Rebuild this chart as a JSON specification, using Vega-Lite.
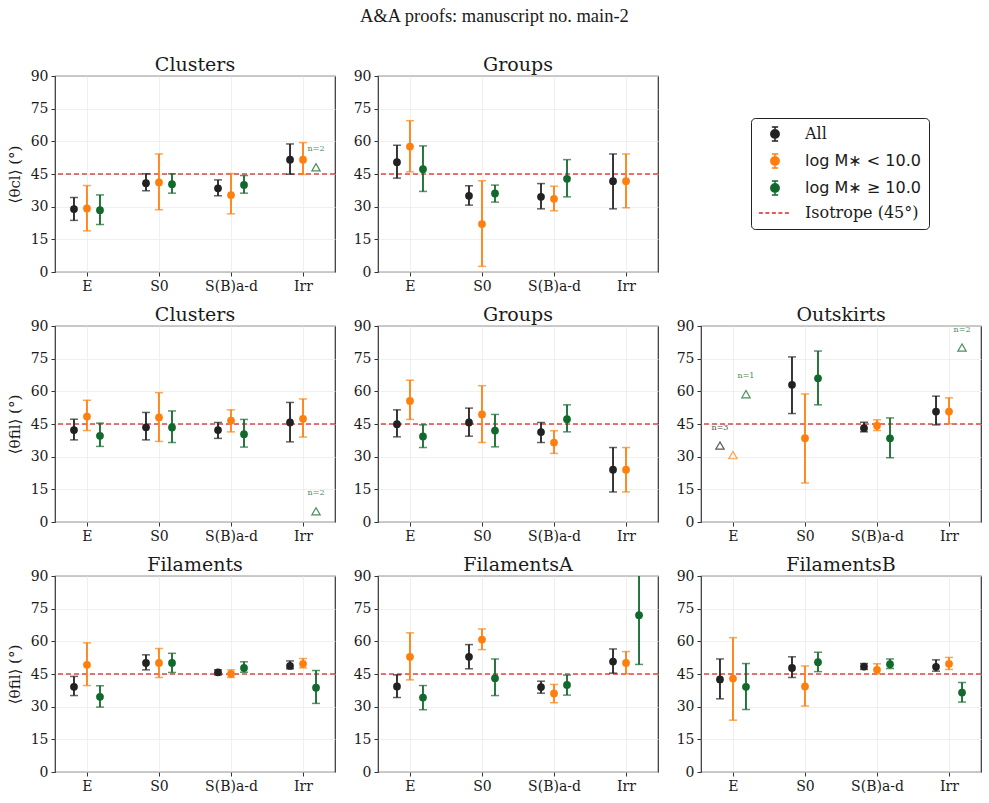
{
  "$schema": "https://vega.github.io/schema/vega-lite/v6.json",
  "background": "white",
  "padding": {"left": 6, "top": 6, "right": 5, "bottom": 5},
  "title": {"text": "A&A proofs: manuscript no. main-2", "font": "Liberation Serif", "fontSize": 18.5, "offset": 30, "anchor": "middle"},
  "datasets": {
    "iso": [{"ang": 45}],
    "pts": [
      {"panel": "c1", "morph": "E", "series": "All", "val": 28.9, "lo": 23.7, "hi": 34.2},
      {"panel": "c1", "morph": "E", "series": "low", "val": 29.2, "lo": 18.9, "hi": 39.7},
      {"panel": "c1", "morph": "E", "series": "high", "val": 28.4, "lo": 21.8, "hi": 35.4},
      {"panel": "c1", "morph": "S0", "series": "All", "val": 40.8, "lo": 37.3, "hi": 45.1},
      {"panel": "c1", "morph": "S0", "series": "low", "val": 41.1, "lo": 28.6, "hi": 54.2},
      {"panel": "c1", "morph": "S0", "series": "high", "val": 40.3, "lo": 36.2, "hi": 45.1},
      {"panel": "c1", "morph": "S(B)a-d", "series": "All", "val": 38.4, "lo": 35.0, "hi": 42.3},
      {"panel": "c1", "morph": "S(B)a-d", "series": "low", "val": 35.3, "lo": 26.7, "hi": 45.2},
      {"panel": "c1", "morph": "S(B)a-d", "series": "high", "val": 40.0, "lo": 36.2, "hi": 44.3},
      {"panel": "c1", "morph": "Irr", "series": "All", "val": 51.6, "lo": 44.9, "hi": 58.8},
      {"panel": "c1", "morph": "Irr", "series": "low", "val": 51.6, "lo": 44.8, "hi": 59.4},

      {"panel": "g1", "morph": "E", "series": "All", "val": 50.4, "lo": 43.1, "hi": 58.2},
      {"panel": "g1", "morph": "E", "series": "low", "val": 57.6, "lo": 46.0, "hi": 69.5},
      {"panel": "g1", "morph": "E", "series": "high", "val": 47.2, "lo": 37.0, "hi": 57.9},
      {"panel": "g1", "morph": "S0", "series": "All", "val": 35.0, "lo": 30.7, "hi": 39.6},
      {"panel": "g1", "morph": "S0", "series": "low", "val": 22.0, "lo": 2.6, "hi": 41.9},
      {"panel": "g1", "morph": "S0", "series": "high", "val": 36.1, "lo": 32.1, "hi": 39.9},
      {"panel": "g1", "morph": "S(B)a-d", "series": "All", "val": 34.5, "lo": 29.0, "hi": 40.6},
      {"panel": "g1", "morph": "S(B)a-d", "series": "low", "val": 33.6, "lo": 28.1, "hi": 39.4},
      {"panel": "g1", "morph": "S(B)a-d", "series": "high", "val": 42.8, "lo": 34.5, "hi": 51.6},
      {"panel": "g1", "morph": "Irr", "series": "All", "val": 41.7, "lo": 29.0, "hi": 54.2},
      {"panel": "g1", "morph": "Irr", "series": "low", "val": 41.7, "lo": 29.5, "hi": 54.2},

      {"panel": "c2", "morph": "E", "series": "All", "val": 42.2, "lo": 37.7, "hi": 47.2},
      {"panel": "c2", "morph": "E", "series": "low", "val": 48.4, "lo": 42.0, "hi": 55.9},
      {"panel": "c2", "morph": "E", "series": "high", "val": 39.6, "lo": 34.7, "hi": 45.4},
      {"panel": "c2", "morph": "S0", "series": "All", "val": 43.5, "lo": 37.7, "hi": 50.3},
      {"panel": "c2", "morph": "S0", "series": "low", "val": 48.0, "lo": 37.0, "hi": 59.4},
      {"panel": "c2", "morph": "S0", "series": "high", "val": 43.4, "lo": 36.5, "hi": 51.0},
      {"panel": "c2", "morph": "S(B)a-d", "series": "All", "val": 42.2, "lo": 38.4, "hi": 45.7},
      {"panel": "c2", "morph": "S(B)a-d", "series": "low", "val": 46.6, "lo": 41.4, "hi": 51.5},
      {"panel": "c2", "morph": "S(B)a-d", "series": "high", "val": 40.3, "lo": 34.4, "hi": 47.1},
      {"panel": "c2", "morph": "Irr", "series": "All", "val": 45.7, "lo": 36.8, "hi": 54.9},
      {"panel": "c2", "morph": "Irr", "series": "low", "val": 47.4, "lo": 39.0, "hi": 56.5},

      {"panel": "g2", "morph": "E", "series": "All", "val": 44.9, "lo": 39.1, "hi": 51.5},
      {"panel": "g2", "morph": "E", "series": "low", "val": 55.6, "lo": 47.1, "hi": 65.1},
      {"panel": "g2", "morph": "E", "series": "high", "val": 39.3, "lo": 34.2, "hi": 44.6},
      {"panel": "g2", "morph": "S0", "series": "All", "val": 45.7, "lo": 39.4, "hi": 52.3},
      {"panel": "g2", "morph": "S0", "series": "low", "val": 49.4, "lo": 36.5, "hi": 62.6},
      {"panel": "g2", "morph": "S0", "series": "high", "val": 42.0, "lo": 34.5, "hi": 49.4},
      {"panel": "g2", "morph": "S(B)a-d", "series": "All", "val": 41.3, "lo": 36.5, "hi": 45.7},
      {"panel": "g2", "morph": "S(B)a-d", "series": "low", "val": 36.5, "lo": 31.5, "hi": 41.9},
      {"panel": "g2", "morph": "S(B)a-d", "series": "high", "val": 47.2, "lo": 41.4, "hi": 53.8},
      {"panel": "g2", "morph": "Irr", "series": "All", "val": 24.0, "lo": 13.8, "hi": 34.2},
      {"panel": "g2", "morph": "Irr", "series": "low", "val": 24.0, "lo": 13.8, "hi": 34.2},

      {"panel": "o2", "morph": "S0", "series": "All", "val": 63.0, "lo": 49.8, "hi": 75.8},
      {"panel": "o2", "morph": "S0", "series": "low", "val": 38.5, "lo": 17.9, "hi": 58.8},
      {"panel": "o2", "morph": "S0", "series": "high", "val": 66.0, "lo": 53.8, "hi": 78.5},
      {"panel": "o2", "morph": "S(B)a-d", "series": "All", "val": 43.1, "lo": 41.4, "hi": 45.8},
      {"panel": "o2", "morph": "S(B)a-d", "series": "low", "val": 44.2, "lo": 42.0, "hi": 46.9},
      {"panel": "o2", "morph": "S(B)a-d", "series": "high", "val": 38.4, "lo": 29.5, "hi": 47.8},
      {"panel": "o2", "morph": "Irr", "series": "All", "val": 50.7, "lo": 44.6, "hi": 57.8},
      {"panel": "o2", "morph": "Irr", "series": "low", "val": 50.7, "lo": 45.1, "hi": 57.0},

      {"panel": "f3", "morph": "E", "series": "All", "val": 39.1, "lo": 35.1, "hi": 43.9},
      {"panel": "f3", "morph": "E", "series": "low", "val": 49.2, "lo": 39.7, "hi": 59.3},
      {"panel": "f3", "morph": "E", "series": "high", "val": 34.5, "lo": 29.8, "hi": 39.6},
      {"panel": "f3", "morph": "S0", "series": "All", "val": 50.1, "lo": 46.9, "hi": 53.8},
      {"panel": "f3", "morph": "S0", "series": "low", "val": 50.1, "lo": 43.4, "hi": 56.7},
      {"panel": "f3", "morph": "S0", "series": "high", "val": 50.1, "lo": 45.7, "hi": 54.5},
      {"panel": "f3", "morph": "S(B)a-d", "series": "All", "val": 45.8, "lo": 44.6, "hi": 46.9},
      {"panel": "f3", "morph": "S(B)a-d", "series": "low", "val": 45.1, "lo": 43.4, "hi": 46.9},
      {"panel": "f3", "morph": "S(B)a-d", "series": "high", "val": 47.8, "lo": 45.8, "hi": 50.6},
      {"panel": "f3", "morph": "Irr", "series": "All", "val": 48.7, "lo": 47.4, "hi": 51.0},
      {"panel": "f3", "morph": "Irr", "series": "low", "val": 49.7, "lo": 47.8, "hi": 52.1},
      {"panel": "f3", "morph": "Irr", "series": "high", "val": 38.7, "lo": 31.5, "hi": 46.6},

      {"panel": "fa3", "morph": "E", "series": "All", "val": 39.3, "lo": 34.2, "hi": 44.6},
      {"panel": "fa3", "morph": "E", "series": "low", "val": 52.9, "lo": 42.3, "hi": 63.9},
      {"panel": "fa3", "morph": "E", "series": "high", "val": 34.2, "lo": 28.6, "hi": 39.7},
      {"panel": "fa3", "morph": "S0", "series": "All", "val": 52.9, "lo": 47.4, "hi": 58.5},
      {"panel": "fa3", "morph": "S0", "series": "low", "val": 60.8, "lo": 56.2, "hi": 65.7},
      {"panel": "fa3", "morph": "S0", "series": "high", "val": 43.1, "lo": 35.1, "hi": 51.9},
      {"panel": "fa3", "morph": "S(B)a-d", "series": "All", "val": 39.0, "lo": 36.2, "hi": 41.7},
      {"panel": "fa3", "morph": "S(B)a-d", "series": "low", "val": 36.1, "lo": 31.8, "hi": 40.2},
      {"panel": "fa3", "morph": "S(B)a-d", "series": "high", "val": 40.0, "lo": 35.3, "hi": 44.5},
      {"panel": "fa3", "morph": "Irr", "series": "All", "val": 50.7, "lo": 45.4, "hi": 56.5},
      {"panel": "fa3", "morph": "Irr", "series": "low", "val": 50.1, "lo": 45.1, "hi": 55.3},
      {"panel": "fa3", "morph": "Irr", "series": "high", "val": 72.0, "lo": 49.4, "hi": 94.6},

      {"panel": "fb3", "morph": "E", "series": "All", "val": 42.5, "lo": 33.6, "hi": 51.9},
      {"panel": "fb3", "morph": "E", "series": "low", "val": 42.9, "lo": 23.8, "hi": 61.7},
      {"panel": "fb3", "morph": "E", "series": "high", "val": 39.1, "lo": 28.7, "hi": 49.8},
      {"panel": "fb3", "morph": "S0", "series": "All", "val": 47.8, "lo": 43.4, "hi": 52.9},
      {"panel": "fb3", "morph": "S0", "series": "low", "val": 39.3, "lo": 30.3, "hi": 48.7},
      {"panel": "fb3", "morph": "S0", "series": "high", "val": 50.4, "lo": 46.1, "hi": 55.0},
      {"panel": "fb3", "morph": "S(B)a-d", "series": "All", "val": 48.4, "lo": 47.1, "hi": 49.8},
      {"panel": "fb3", "morph": "S(B)a-d", "series": "low", "val": 46.9, "lo": 45.1, "hi": 49.7},
      {"panel": "fb3", "morph": "S(B)a-d", "series": "high", "val": 49.5, "lo": 47.5, "hi": 51.9},
      {"panel": "fb3", "morph": "Irr", "series": "All", "val": 48.3, "lo": 46.3, "hi": 51.5},
      {"panel": "fb3", "morph": "Irr", "series": "low", "val": 49.7, "lo": 47.1, "hi": 52.6},
      {"panel": "fb3", "morph": "Irr", "series": "high", "val": 36.5, "lo": 32.1, "hi": 41.1}
    ],
    "few": [
      {"panel": "c1", "morph": "Irr", "series": "high", "val": 48.1, "n": "n=2"},
      {"panel": "c2", "morph": "Irr", "series": "high", "val": 4.9, "n": "n=2"},
      {"panel": "o2", "morph": "E", "series": "All", "val": 35.1, "n": "n=3"},
      {"panel": "o2", "morph": "E", "series": "low", "val": 30.7, "n": null},
      {"panel": "o2", "morph": "E", "series": "high", "val": 58.7, "n": "n=1"},
      {"panel": "o2", "morph": "Irr", "series": "high", "val": 80.1, "n": "n=2"}
    ],
    "legend": [
      {"label": "All"},
      {"label": "log M∗ < 10.0"},
      {"label": "log M∗ ≥ 10.0"},
      {"label": "Isotrope (45°)"}
    ]
  },
  "vconcat": [
    {
      "hconcat": [
        {
          "title": "Clusters", "width": 280, "height": 196,
          "layer": [
            {"data": {"name": "iso"}, "mark": {"type": "rule", "color": "#d62728", "strokeDash": [5, 3], "strokeWidth": 1.5, "opacity": 0.85},
             "encoding": {"y": {"field": "ang", "type": "quantitative", "scale": {"domain": [0, 90], "nice": false}, "axis": {"values": [0, 15, 30, 45, 60, 75, 90]}, "title": "⟨θcl⟩ (°)"}}},
            {"data": {"name": "pts"}, "transform": [{"filter": "datum.panel === 'c1'"}], "mark": {"type": "rule", "strokeWidth": 1.8, "clip": true},
             "encoding": {
               "x": {"field": "morph", "type": "nominal", "scale": {"type": "point", "domain": ["E", "S0", "S(B)a-d", "Irr"], "padding": 0.444}, "title": null},
               "xOffset": {"field": "series", "type": "nominal", "scale": {"type": "point", "domain": ["All", "low", "high"], "range": [-13, 13], "padding": 0}},
               "y": {"field": "lo", "type": "quantitative", "scale": {"domain": [0, 90], "nice": false}, "axis": {"values": [0, 15, 30, 45, 60, 75, 90]}, "title": "⟨θcl⟩ (°)"},
               "y2": {"field": "hi"},
               "color": {"field": "series", "type": "nominal", "scale": {"domain": ["All", "low", "high"], "range": ["#222222", "#ff7f0e", "#11692b"]}, "legend": null}}},
            {"data": {"name": "pts"}, "transform": [{"filter": "datum.panel === 'c1'"}], "mark": {"type": "tick", "orient": "horizontal", "size": 8, "thickness": 1.5, "clip": true},
             "encoding": {
               "x": {"field": "morph", "type": "nominal", "scale": {"type": "point", "domain": ["E", "S0", "S(B)a-d", "Irr"], "padding": 0.444}, "title": null},
               "xOffset": {"field": "series", "type": "nominal", "scale": {"type": "point", "domain": ["All", "low", "high"], "range": [-13, 13], "padding": 0}},
               "y": {"field": "lo", "type": "quantitative", "scale": {"domain": [0, 90], "nice": false}, "axis": {"values": [0, 15, 30, 45, 60, 75, 90]}, "title": "⟨θcl⟩ (°)"},
               "color": {"field": "series", "type": "nominal", "scale": {"domain": ["All", "low", "high"], "range": ["#222222", "#ff7f0e", "#11692b"]}, "legend": null}}},
            {"data": {"name": "pts"}, "transform": [{"filter": "datum.panel === 'c1'"}], "mark": {"type": "tick", "orient": "horizontal", "size": 8, "thickness": 1.5, "clip": true},
             "encoding": {
               "x": {"field": "morph", "type": "nominal", "scale": {"type": "point", "domain": ["E", "S0", "S(B)a-d", "Irr"], "padding": 0.444}, "title": null},
               "xOffset": {"field": "series", "type": "nominal", "scale": {"type": "point", "domain": ["All", "low", "high"], "range": [-13, 13], "padding": 0}},
               "y": {"field": "hi", "type": "quantitative", "scale": {"domain": [0, 90], "nice": false}, "axis": {"values": [0, 15, 30, 45, 60, 75, 90]}, "title": "⟨θcl⟩ (°)"},
               "color": {"field": "series", "type": "nominal", "scale": {"domain": ["All", "low", "high"], "range": ["#222222", "#ff7f0e", "#11692b"]}, "legend": null}}},
            {"data": {"name": "pts"}, "transform": [{"filter": "datum.panel === 'c1'"}], "mark": {"type": "point", "filled": true, "size": 60, "opacity": 1},
             "encoding": {
               "x": {"field": "morph", "type": "nominal", "scale": {"type": "point", "domain": ["E", "S0", "S(B)a-d", "Irr"], "padding": 0.444}, "title": null},
               "xOffset": {"field": "series", "type": "nominal", "scale": {"type": "point", "domain": ["All", "low", "high"], "range": [-13, 13], "padding": 0}},
               "y": {"field": "val", "type": "quantitative", "scale": {"domain": [0, 90], "nice": false}, "axis": {"values": [0, 15, 30, 45, 60, 75, 90]}, "title": "⟨θcl⟩ (°)"},
               "color": {"field": "series", "type": "nominal", "scale": {"domain": ["All", "low", "high"], "range": ["#222222", "#ff7f0e", "#11692b"]}, "legend": null}}},
            {"data": {"name": "few"}, "transform": [{"filter": "datum.panel === 'c1'"}], "mark": {"type": "point", "shape": "triangle-up", "filled": false, "size": 70, "strokeWidth": 1.2, "opacity": 0.75},
             "encoding": {
               "x": {"field": "morph", "type": "nominal", "scale": {"type": "point", "domain": ["E", "S0", "S(B)a-d", "Irr"], "padding": 0.444}, "title": null},
               "xOffset": {"field": "series", "type": "nominal", "scale": {"type": "point", "domain": ["All", "low", "high"], "range": [-13, 13], "padding": 0}},
               "y": {"field": "val", "type": "quantitative", "scale": {"domain": [0, 90], "nice": false}, "axis": {"values": [0, 15, 30, 45, 60, 75, 90]}, "title": "⟨θcl⟩ (°)"},
               "color": {"field": "series", "type": "nominal", "scale": {"domain": ["All", "low", "high"], "range": ["#222222", "#ff7f0e", "#11692b"]}, "legend": null}}},
            {"data": {"name": "few"}, "transform": [{"filter": "datum.panel === 'c1' && datum.n != null"}], "mark": {"type": "text", "fontSize": 8, "dy": -18, "opacity": 0.8},
             "encoding": {
               "x": {"field": "morph", "type": "nominal", "scale": {"type": "point", "domain": ["E", "S0", "S(B)a-d", "Irr"], "padding": 0.444}, "title": null},
               "xOffset": {"field": "series", "type": "nominal", "scale": {"type": "point", "domain": ["All", "low", "high"], "range": [-13, 13], "padding": 0}},
               "y": {"field": "val", "type": "quantitative", "scale": {"domain": [0, 90], "nice": false}, "axis": {"values": [0, 15, 30, 45, 60, 75, 90]}, "title": "⟨θcl⟩ (°)"},
               "text": {"field": "n"},
               "color": {"field": "series", "type": "nominal", "scale": {"domain": ["All", "low", "high"], "range": ["#222222", "#ff7f0e", "#11692b"]}, "legend": null}}}
          ]
        },
        {
          "title": "Groups", "width": 280, "height": 196,
          "layer": [
            {"data": {"name": "iso"}, "mark": {"type": "rule", "color": "#d62728", "strokeDash": [5, 3], "strokeWidth": 1.5, "opacity": 0.85},
             "encoding": {"y": {"field": "ang", "type": "quantitative", "scale": {"domain": [0, 90], "nice": false}, "axis": {"values": [0, 15, 30, 45, 60, 75, 90]}, "title": null}}},
            {"data": {"name": "pts"}, "transform": [{"filter": "datum.panel === 'g1'"}], "mark": {"type": "rule", "strokeWidth": 1.8, "clip": true},
             "encoding": {
               "x": {"field": "morph", "type": "nominal", "scale": {"type": "point", "domain": ["E", "S0", "S(B)a-d", "Irr"], "padding": 0.444}, "title": null},
               "xOffset": {"field": "series", "type": "nominal", "scale": {"type": "point", "domain": ["All", "low", "high"], "range": [-13, 13], "padding": 0}},
               "y": {"field": "lo", "type": "quantitative", "scale": {"domain": [0, 90], "nice": false}, "axis": {"values": [0, 15, 30, 45, 60, 75, 90]}, "title": null},
               "y2": {"field": "hi"},
               "color": {"field": "series", "type": "nominal", "scale": {"domain": ["All", "low", "high"], "range": ["#222222", "#ff7f0e", "#11692b"]}, "legend": null}}},
            {"data": {"name": "pts"}, "transform": [{"filter": "datum.panel === 'g1'"}], "mark": {"type": "tick", "orient": "horizontal", "size": 8, "thickness": 1.5, "clip": true},
             "encoding": {
               "x": {"field": "morph", "type": "nominal", "scale": {"type": "point", "domain": ["E", "S0", "S(B)a-d", "Irr"], "padding": 0.444}, "title": null},
               "xOffset": {"field": "series", "type": "nominal", "scale": {"type": "point", "domain": ["All", "low", "high"], "range": [-13, 13], "padding": 0}},
               "y": {"field": "lo", "type": "quantitative", "scale": {"domain": [0, 90], "nice": false}, "axis": {"values": [0, 15, 30, 45, 60, 75, 90]}, "title": null},
               "color": {"field": "series", "type": "nominal", "scale": {"domain": ["All", "low", "high"], "range": ["#222222", "#ff7f0e", "#11692b"]}, "legend": null}}},
            {"data": {"name": "pts"}, "transform": [{"filter": "datum.panel === 'g1'"}], "mark": {"type": "tick", "orient": "horizontal", "size": 8, "thickness": 1.5, "clip": true},
             "encoding": {
               "x": {"field": "morph", "type": "nominal", "scale": {"type": "point", "domain": ["E", "S0", "S(B)a-d", "Irr"], "padding": 0.444}, "title": null},
               "xOffset": {"field": "series", "type": "nominal", "scale": {"type": "point", "domain": ["All", "low", "high"], "range": [-13, 13], "padding": 0}},
               "y": {"field": "hi", "type": "quantitative", "scale": {"domain": [0, 90], "nice": false}, "axis": {"values": [0, 15, 30, 45, 60, 75, 90]}, "title": null},
               "color": {"field": "series", "type": "nominal", "scale": {"domain": ["All", "low", "high"], "range": ["#222222", "#ff7f0e", "#11692b"]}, "legend": null}}},
            {"data": {"name": "pts"}, "transform": [{"filter": "datum.panel === 'g1'"}], "mark": {"type": "point", "filled": true, "size": 60, "opacity": 1},
             "encoding": {
               "x": {"field": "morph", "type": "nominal", "scale": {"type": "point", "domain": ["E", "S0", "S(B)a-d", "Irr"], "padding": 0.444}, "title": null},
               "xOffset": {"field": "series", "type": "nominal", "scale": {"type": "point", "domain": ["All", "low", "high"], "range": [-13, 13], "padding": 0}},
               "y": {"field": "val", "type": "quantitative", "scale": {"domain": [0, 90], "nice": false}, "axis": {"values": [0, 15, 30, 45, 60, 75, 90]}, "title": null},
               "color": {"field": "series", "type": "nominal", "scale": {"domain": ["All", "low", "high"], "range": ["#222222", "#ff7f0e", "#11692b"]}, "legend": null}}}
          ]
        },
        {
          "width": 280, "height": 196,
          "view": {"stroke": null},
          "data": {"name": "legend"},
          "mark": {"type": "point", "filled": true, "opacity": 0},
          "encoding": {
            "fill": {"field": "label", "type": "nominal",
              "scale": {"domain": ["All", "log M∗ < 10.0", "log M∗ ≥ 10.0", "Isotrope (45°)"], "range": ["#222222", "#ff7f0e", "#11692b", "#d62728"]},
              "legend": {
                "title": null, "orient": "none", "legendX": 76, "legendY": 42,
                "strokeColor": "#222222", "fillColor": "white", "cornerRadius": 4, "padding": 8,
                "labelFont": "DejaVu Serif", "labelFontSize": 16, "labelColor": "#1a1a1a",
                "rowPadding": 7, "symbolSize": 196, "symbolOffset": 8, "labelOffset": 22,
                "encode": {
                  "labels": {"update": {
                    "font": {"signal": "datum.value === 'All' || datum.value === 'Isotrope (45°)' ? 'DejaVu Serif' : 'DejaVu Sans'"}
                  }},
                  "symbols": {"update": {
                    "shape": {"signal": "datum.value === 'Isotrope (45°)' ? 'M-2.3,0H2.3' : 'M0,-1V1M-0.45,-1H0.45M-0.45,1H0.45M0.6,0A0.6,0.6,0,1,1,-0.6,0A0.6,0.6,0,1,1,0.6,0Z'"},
                    "fill": {"signal": "datum.value === 'All' ? '#222222' : datum.value === 'Isotrope (45°)' ? 'transparent' : indexof(datum.value, '<') > 0 ? '#ff7f0e' : '#11692b'"},
                    "stroke": {"signal": "datum.value === 'All' ? '#222222' : datum.value === 'Isotrope (45°)' ? '#d62728' : indexof(datum.value, '<') > 0 ? '#ff7f0e' : '#11692b'"},
                    "strokeDash": {"signal": "datum.value === 'Isotrope (45°)' ? [4, 2.5] : []"},
                    "strokeWidth": {"value": 1.5},
                    "opacity": {"value": 1}
                  }}
                }
              }
            }
          }
        }
      ],
      "spacing": 15,
      "resolve": {"legend": {"fill": "independent"}}
    },
    {
      "hconcat": [
        {
          "title": "Clusters", "width": 280, "height": 196,
          "layer": [
            {"data": {"name": "iso"}, "mark": {"type": "rule", "color": "#d62728", "strokeDash": [5, 3], "strokeWidth": 1.5, "opacity": 0.85},
             "encoding": {"y": {"field": "ang", "type": "quantitative", "scale": {"domain": [0, 90], "nice": false}, "axis": {"values": [0, 15, 30, 45, 60, 75, 90]}, "title": "⟨θfil⟩ (°)"}}},
            {"data": {"name": "pts"}, "transform": [{"filter": "datum.panel === 'c2'"}], "mark": {"type": "rule", "strokeWidth": 1.8, "clip": true},
             "encoding": {
               "x": {"field": "morph", "type": "nominal", "scale": {"type": "point", "domain": ["E", "S0", "S(B)a-d", "Irr"], "padding": 0.444}, "title": null},
               "xOffset": {"field": "series", "type": "nominal", "scale": {"type": "point", "domain": ["All", "low", "high"], "range": [-13, 13], "padding": 0}},
               "y": {"field": "lo", "type": "quantitative", "scale": {"domain": [0, 90], "nice": false}, "axis": {"values": [0, 15, 30, 45, 60, 75, 90]}, "title": "⟨θfil⟩ (°)"},
               "y2": {"field": "hi"},
               "color": {"field": "series", "type": "nominal", "scale": {"domain": ["All", "low", "high"], "range": ["#222222", "#ff7f0e", "#11692b"]}, "legend": null}}},
            {"data": {"name": "pts"}, "transform": [{"filter": "datum.panel === 'c2'"}], "mark": {"type": "tick", "orient": "horizontal", "size": 8, "thickness": 1.5, "clip": true},
             "encoding": {
               "x": {"field": "morph", "type": "nominal", "scale": {"type": "point", "domain": ["E", "S0", "S(B)a-d", "Irr"], "padding": 0.444}, "title": null},
               "xOffset": {"field": "series", "type": "nominal", "scale": {"type": "point", "domain": ["All", "low", "high"], "range": [-13, 13], "padding": 0}},
               "y": {"field": "lo", "type": "quantitative", "scale": {"domain": [0, 90], "nice": false}, "axis": {"values": [0, 15, 30, 45, 60, 75, 90]}, "title": "⟨θfil⟩ (°)"},
               "color": {"field": "series", "type": "nominal", "scale": {"domain": ["All", "low", "high"], "range": ["#222222", "#ff7f0e", "#11692b"]}, "legend": null}}},
            {"data": {"name": "pts"}, "transform": [{"filter": "datum.panel === 'c2'"}], "mark": {"type": "tick", "orient": "horizontal", "size": 8, "thickness": 1.5, "clip": true},
             "encoding": {
               "x": {"field": "morph", "type": "nominal", "scale": {"type": "point", "domain": ["E", "S0", "S(B)a-d", "Irr"], "padding": 0.444}, "title": null},
               "xOffset": {"field": "series", "type": "nominal", "scale": {"type": "point", "domain": ["All", "low", "high"], "range": [-13, 13], "padding": 0}},
               "y": {"field": "hi", "type": "quantitative", "scale": {"domain": [0, 90], "nice": false}, "axis": {"values": [0, 15, 30, 45, 60, 75, 90]}, "title": "⟨θfil⟩ (°)"},
               "color": {"field": "series", "type": "nominal", "scale": {"domain": ["All", "low", "high"], "range": ["#222222", "#ff7f0e", "#11692b"]}, "legend": null}}},
            {"data": {"name": "pts"}, "transform": [{"filter": "datum.panel === 'c2'"}], "mark": {"type": "point", "filled": true, "size": 60, "opacity": 1},
             "encoding": {
               "x": {"field": "morph", "type": "nominal", "scale": {"type": "point", "domain": ["E", "S0", "S(B)a-d", "Irr"], "padding": 0.444}, "title": null},
               "xOffset": {"field": "series", "type": "nominal", "scale": {"type": "point", "domain": ["All", "low", "high"], "range": [-13, 13], "padding": 0}},
               "y": {"field": "val", "type": "quantitative", "scale": {"domain": [0, 90], "nice": false}, "axis": {"values": [0, 15, 30, 45, 60, 75, 90]}, "title": "⟨θfil⟩ (°)"},
               "color": {"field": "series", "type": "nominal", "scale": {"domain": ["All", "low", "high"], "range": ["#222222", "#ff7f0e", "#11692b"]}, "legend": null}}},
            {"data": {"name": "few"}, "transform": [{"filter": "datum.panel === 'c2'"}], "mark": {"type": "point", "shape": "triangle-up", "filled": false, "size": 70, "strokeWidth": 1.2, "opacity": 0.75},
             "encoding": {
               "x": {"field": "morph", "type": "nominal", "scale": {"type": "point", "domain": ["E", "S0", "S(B)a-d", "Irr"], "padding": 0.444}, "title": null},
               "xOffset": {"field": "series", "type": "nominal", "scale": {"type": "point", "domain": ["All", "low", "high"], "range": [-13, 13], "padding": 0}},
               "y": {"field": "val", "type": "quantitative", "scale": {"domain": [0, 90], "nice": false}, "axis": {"values": [0, 15, 30, 45, 60, 75, 90]}, "title": "⟨θfil⟩ (°)"},
               "color": {"field": "series", "type": "nominal", "scale": {"domain": ["All", "low", "high"], "range": ["#222222", "#ff7f0e", "#11692b"]}, "legend": null}}},
            {"data": {"name": "few"}, "transform": [{"filter": "datum.panel === 'c2' && datum.n != null"}], "mark": {"type": "text", "fontSize": 8, "dy": -18, "opacity": 0.8},
             "encoding": {
               "x": {"field": "morph", "type": "nominal", "scale": {"type": "point", "domain": ["E", "S0", "S(B)a-d", "Irr"], "padding": 0.444}, "title": null},
               "xOffset": {"field": "series", "type": "nominal", "scale": {"type": "point", "domain": ["All", "low", "high"], "range": [-13, 13], "padding": 0}},
               "y": {"field": "val", "type": "quantitative", "scale": {"domain": [0, 90], "nice": false}, "axis": {"values": [0, 15, 30, 45, 60, 75, 90]}, "title": "⟨θfil⟩ (°)"},
               "text": {"field": "n"},
               "color": {"field": "series", "type": "nominal", "scale": {"domain": ["All", "low", "high"], "range": ["#222222", "#ff7f0e", "#11692b"]}, "legend": null}}}
          ]
        },
        {
          "title": "Groups", "width": 280, "height": 196,
          "layer": [
            {"data": {"name": "iso"}, "mark": {"type": "rule", "color": "#d62728", "strokeDash": [5, 3], "strokeWidth": 1.5, "opacity": 0.85},
             "encoding": {"y": {"field": "ang", "type": "quantitative", "scale": {"domain": [0, 90], "nice": false}, "axis": {"values": [0, 15, 30, 45, 60, 75, 90]}, "title": null}}},
            {"data": {"name": "pts"}, "transform": [{"filter": "datum.panel === 'g2'"}], "mark": {"type": "rule", "strokeWidth": 1.8, "clip": true},
             "encoding": {
               "x": {"field": "morph", "type": "nominal", "scale": {"type": "point", "domain": ["E", "S0", "S(B)a-d", "Irr"], "padding": 0.444}, "title": null},
               "xOffset": {"field": "series", "type": "nominal", "scale": {"type": "point", "domain": ["All", "low", "high"], "range": [-13, 13], "padding": 0}},
               "y": {"field": "lo", "type": "quantitative", "scale": {"domain": [0, 90], "nice": false}, "axis": {"values": [0, 15, 30, 45, 60, 75, 90]}, "title": null},
               "y2": {"field": "hi"},
               "color": {"field": "series", "type": "nominal", "scale": {"domain": ["All", "low", "high"], "range": ["#222222", "#ff7f0e", "#11692b"]}, "legend": null}}},
            {"data": {"name": "pts"}, "transform": [{"filter": "datum.panel === 'g2'"}], "mark": {"type": "tick", "orient": "horizontal", "size": 8, "thickness": 1.5, "clip": true},
             "encoding": {
               "x": {"field": "morph", "type": "nominal", "scale": {"type": "point", "domain": ["E", "S0", "S(B)a-d", "Irr"], "padding": 0.444}, "title": null},
               "xOffset": {"field": "series", "type": "nominal", "scale": {"type": "point", "domain": ["All", "low", "high"], "range": [-13, 13], "padding": 0}},
               "y": {"field": "lo", "type": "quantitative", "scale": {"domain": [0, 90], "nice": false}, "axis": {"values": [0, 15, 30, 45, 60, 75, 90]}, "title": null},
               "color": {"field": "series", "type": "nominal", "scale": {"domain": ["All", "low", "high"], "range": ["#222222", "#ff7f0e", "#11692b"]}, "legend": null}}},
            {"data": {"name": "pts"}, "transform": [{"filter": "datum.panel === 'g2'"}], "mark": {"type": "tick", "orient": "horizontal", "size": 8, "thickness": 1.5, "clip": true},
             "encoding": {
               "x": {"field": "morph", "type": "nominal", "scale": {"type": "point", "domain": ["E", "S0", "S(B)a-d", "Irr"], "padding": 0.444}, "title": null},
               "xOffset": {"field": "series", "type": "nominal", "scale": {"type": "point", "domain": ["All", "low", "high"], "range": [-13, 13], "padding": 0}},
               "y": {"field": "hi", "type": "quantitative", "scale": {"domain": [0, 90], "nice": false}, "axis": {"values": [0, 15, 30, 45, 60, 75, 90]}, "title": null},
               "color": {"field": "series", "type": "nominal", "scale": {"domain": ["All", "low", "high"], "range": ["#222222", "#ff7f0e", "#11692b"]}, "legend": null}}},
            {"data": {"name": "pts"}, "transform": [{"filter": "datum.panel === 'g2'"}], "mark": {"type": "point", "filled": true, "size": 60, "opacity": 1},
             "encoding": {
               "x": {"field": "morph", "type": "nominal", "scale": {"type": "point", "domain": ["E", "S0", "S(B)a-d", "Irr"], "padding": 0.444}, "title": null},
               "xOffset": {"field": "series", "type": "nominal", "scale": {"type": "point", "domain": ["All", "low", "high"], "range": [-13, 13], "padding": 0}},
               "y": {"field": "val", "type": "quantitative", "scale": {"domain": [0, 90], "nice": false}, "axis": {"values": [0, 15, 30, 45, 60, 75, 90]}, "title": null},
               "color": {"field": "series", "type": "nominal", "scale": {"domain": ["All", "low", "high"], "range": ["#222222", "#ff7f0e", "#11692b"]}, "legend": null}}}
          ]
        },
        {
          "title": "Outskirts", "width": 280, "height": 196,
          "layer": [
            {"data": {"name": "iso"}, "mark": {"type": "rule", "color": "#d62728", "strokeDash": [5, 3], "strokeWidth": 1.5, "opacity": 0.85},
             "encoding": {"y": {"field": "ang", "type": "quantitative", "scale": {"domain": [0, 90], "nice": false}, "axis": {"values": [0, 15, 30, 45, 60, 75, 90]}, "title": null}}},
            {"data": {"name": "pts"}, "transform": [{"filter": "datum.panel === 'o2'"}], "mark": {"type": "rule", "strokeWidth": 1.8, "clip": true},
             "encoding": {
               "x": {"field": "morph", "type": "nominal", "scale": {"type": "point", "domain": ["E", "S0", "S(B)a-d", "Irr"], "padding": 0.444}, "title": null},
               "xOffset": {"field": "series", "type": "nominal", "scale": {"type": "point", "domain": ["All", "low", "high"], "range": [-13, 13], "padding": 0}},
               "y": {"field": "lo", "type": "quantitative", "scale": {"domain": [0, 90], "nice": false}, "axis": {"values": [0, 15, 30, 45, 60, 75, 90]}, "title": null},
               "y2": {"field": "hi"},
               "color": {"field": "series", "type": "nominal", "scale": {"domain": ["All", "low", "high"], "range": ["#222222", "#ff7f0e", "#11692b"]}, "legend": null}}},
            {"data": {"name": "pts"}, "transform": [{"filter": "datum.panel === 'o2'"}], "mark": {"type": "tick", "orient": "horizontal", "size": 8, "thickness": 1.5, "clip": true},
             "encoding": {
               "x": {"field": "morph", "type": "nominal", "scale": {"type": "point", "domain": ["E", "S0", "S(B)a-d", "Irr"], "padding": 0.444}, "title": null},
               "xOffset": {"field": "series", "type": "nominal", "scale": {"type": "point", "domain": ["All", "low", "high"], "range": [-13, 13], "padding": 0}},
               "y": {"field": "lo", "type": "quantitative", "scale": {"domain": [0, 90], "nice": false}, "axis": {"values": [0, 15, 30, 45, 60, 75, 90]}, "title": null},
               "color": {"field": "series", "type": "nominal", "scale": {"domain": ["All", "low", "high"], "range": ["#222222", "#ff7f0e", "#11692b"]}, "legend": null}}},
            {"data": {"name": "pts"}, "transform": [{"filter": "datum.panel === 'o2'"}], "mark": {"type": "tick", "orient": "horizontal", "size": 8, "thickness": 1.5, "clip": true},
             "encoding": {
               "x": {"field": "morph", "type": "nominal", "scale": {"type": "point", "domain": ["E", "S0", "S(B)a-d", "Irr"], "padding": 0.444}, "title": null},
               "xOffset": {"field": "series", "type": "nominal", "scale": {"type": "point", "domain": ["All", "low", "high"], "range": [-13, 13], "padding": 0}},
               "y": {"field": "hi", "type": "quantitative", "scale": {"domain": [0, 90], "nice": false}, "axis": {"values": [0, 15, 30, 45, 60, 75, 90]}, "title": null},
               "color": {"field": "series", "type": "nominal", "scale": {"domain": ["All", "low", "high"], "range": ["#222222", "#ff7f0e", "#11692b"]}, "legend": null}}},
            {"data": {"name": "pts"}, "transform": [{"filter": "datum.panel === 'o2'"}], "mark": {"type": "point", "filled": true, "size": 60, "opacity": 1},
             "encoding": {
               "x": {"field": "morph", "type": "nominal", "scale": {"type": "point", "domain": ["E", "S0", "S(B)a-d", "Irr"], "padding": 0.444}, "title": null},
               "xOffset": {"field": "series", "type": "nominal", "scale": {"type": "point", "domain": ["All", "low", "high"], "range": [-13, 13], "padding": 0}},
               "y": {"field": "val", "type": "quantitative", "scale": {"domain": [0, 90], "nice": false}, "axis": {"values": [0, 15, 30, 45, 60, 75, 90]}, "title": null},
               "color": {"field": "series", "type": "nominal", "scale": {"domain": ["All", "low", "high"], "range": ["#222222", "#ff7f0e", "#11692b"]}, "legend": null}}},
            {"data": {"name": "few"}, "transform": [{"filter": "datum.panel === 'o2'"}], "mark": {"type": "point", "shape": "triangle-up", "filled": false, "size": 70, "strokeWidth": 1.2, "opacity": 0.75},
             "encoding": {
               "x": {"field": "morph", "type": "nominal", "scale": {"type": "point", "domain": ["E", "S0", "S(B)a-d", "Irr"], "padding": 0.444}, "title": null},
               "xOffset": {"field": "series", "type": "nominal", "scale": {"type": "point", "domain": ["All", "low", "high"], "range": [-13, 13], "padding": 0}},
               "y": {"field": "val", "type": "quantitative", "scale": {"domain": [0, 90], "nice": false}, "axis": {"values": [0, 15, 30, 45, 60, 75, 90]}, "title": null},
               "color": {"field": "series", "type": "nominal", "scale": {"domain": ["All", "low", "high"], "range": ["#222222", "#ff7f0e", "#11692b"]}, "legend": null}}},
            {"data": {"name": "few"}, "transform": [{"filter": "datum.panel === 'o2' && datum.n != null"}], "mark": {"type": "text", "fontSize": 8, "dy": -18, "opacity": 0.8},
             "encoding": {
               "x": {"field": "morph", "type": "nominal", "scale": {"type": "point", "domain": ["E", "S0", "S(B)a-d", "Irr"], "padding": 0.444}, "title": null},
               "xOffset": {"field": "series", "type": "nominal", "scale": {"type": "point", "domain": ["All", "low", "high"], "range": [-13, 13], "padding": 0}},
               "y": {"field": "val", "type": "quantitative", "scale": {"domain": [0, 90], "nice": false}, "axis": {"values": [0, 15, 30, 45, 60, 75, 90]}, "title": null},
               "text": {"field": "n"},
               "color": {"field": "series", "type": "nominal", "scale": {"domain": ["All", "low", "high"], "range": ["#222222", "#ff7f0e", "#11692b"]}, "legend": null}}}
          ]
        }
      ],
      "spacing": 15
    },
    {
      "hconcat": [
        {
          "title": "Filaments", "width": 280, "height": 196,
          "layer": [
            {"data": {"name": "iso"}, "mark": {"type": "rule", "color": "#d62728", "strokeDash": [5, 3], "strokeWidth": 1.5, "opacity": 0.85},
             "encoding": {"y": {"field": "ang", "type": "quantitative", "scale": {"domain": [0, 90], "nice": false}, "axis": {"values": [0, 15, 30, 45, 60, 75, 90]}, "title": "⟨θfil⟩ (°)"}}},
            {"data": {"name": "pts"}, "transform": [{"filter": "datum.panel === 'f3'"}], "mark": {"type": "rule", "strokeWidth": 1.8, "clip": true},
             "encoding": {
               "x": {"field": "morph", "type": "nominal", "scale": {"type": "point", "domain": ["E", "S0", "S(B)a-d", "Irr"], "padding": 0.444}, "title": null},
               "xOffset": {"field": "series", "type": "nominal", "scale": {"type": "point", "domain": ["All", "low", "high"], "range": [-13, 13], "padding": 0}},
               "y": {"field": "lo", "type": "quantitative", "scale": {"domain": [0, 90], "nice": false}, "axis": {"values": [0, 15, 30, 45, 60, 75, 90]}, "title": "⟨θfil⟩ (°)"},
               "y2": {"field": "hi"},
               "color": {"field": "series", "type": "nominal", "scale": {"domain": ["All", "low", "high"], "range": ["#222222", "#ff7f0e", "#11692b"]}, "legend": null}}},
            {"data": {"name": "pts"}, "transform": [{"filter": "datum.panel === 'f3'"}], "mark": {"type": "tick", "orient": "horizontal", "size": 8, "thickness": 1.5, "clip": true},
             "encoding": {
               "x": {"field": "morph", "type": "nominal", "scale": {"type": "point", "domain": ["E", "S0", "S(B)a-d", "Irr"], "padding": 0.444}, "title": null},
               "xOffset": {"field": "series", "type": "nominal", "scale": {"type": "point", "domain": ["All", "low", "high"], "range": [-13, 13], "padding": 0}},
               "y": {"field": "lo", "type": "quantitative", "scale": {"domain": [0, 90], "nice": false}, "axis": {"values": [0, 15, 30, 45, 60, 75, 90]}, "title": "⟨θfil⟩ (°)"},
               "color": {"field": "series", "type": "nominal", "scale": {"domain": ["All", "low", "high"], "range": ["#222222", "#ff7f0e", "#11692b"]}, "legend": null}}},
            {"data": {"name": "pts"}, "transform": [{"filter": "datum.panel === 'f3'"}], "mark": {"type": "tick", "orient": "horizontal", "size": 8, "thickness": 1.5, "clip": true},
             "encoding": {
               "x": {"field": "morph", "type": "nominal", "scale": {"type": "point", "domain": ["E", "S0", "S(B)a-d", "Irr"], "padding": 0.444}, "title": null},
               "xOffset": {"field": "series", "type": "nominal", "scale": {"type": "point", "domain": ["All", "low", "high"], "range": [-13, 13], "padding": 0}},
               "y": {"field": "hi", "type": "quantitative", "scale": {"domain": [0, 90], "nice": false}, "axis": {"values": [0, 15, 30, 45, 60, 75, 90]}, "title": "⟨θfil⟩ (°)"},
               "color": {"field": "series", "type": "nominal", "scale": {"domain": ["All", "low", "high"], "range": ["#222222", "#ff7f0e", "#11692b"]}, "legend": null}}},
            {"data": {"name": "pts"}, "transform": [{"filter": "datum.panel === 'f3'"}], "mark": {"type": "point", "filled": true, "size": 60, "opacity": 1},
             "encoding": {
               "x": {"field": "morph", "type": "nominal", "scale": {"type": "point", "domain": ["E", "S0", "S(B)a-d", "Irr"], "padding": 0.444}, "title": null},
               "xOffset": {"field": "series", "type": "nominal", "scale": {"type": "point", "domain": ["All", "low", "high"], "range": [-13, 13], "padding": 0}},
               "y": {"field": "val", "type": "quantitative", "scale": {"domain": [0, 90], "nice": false}, "axis": {"values": [0, 15, 30, 45, 60, 75, 90]}, "title": "⟨θfil⟩ (°)"},
               "color": {"field": "series", "type": "nominal", "scale": {"domain": ["All", "low", "high"], "range": ["#222222", "#ff7f0e", "#11692b"]}, "legend": null}}}
          ]
        },
        {
          "title": "FilamentsA", "width": 280, "height": 196,
          "layer": [
            {"data": {"name": "iso"}, "mark": {"type": "rule", "color": "#d62728", "strokeDash": [5, 3], "strokeWidth": 1.5, "opacity": 0.85},
             "encoding": {"y": {"field": "ang", "type": "quantitative", "scale": {"domain": [0, 90], "nice": false}, "axis": {"values": [0, 15, 30, 45, 60, 75, 90]}, "title": null}}},
            {"data": {"name": "pts"}, "transform": [{"filter": "datum.panel === 'fa3'"}], "mark": {"type": "rule", "strokeWidth": 1.8, "clip": true},
             "encoding": {
               "x": {"field": "morph", "type": "nominal", "scale": {"type": "point", "domain": ["E", "S0", "S(B)a-d", "Irr"], "padding": 0.444}, "title": null},
               "xOffset": {"field": "series", "type": "nominal", "scale": {"type": "point", "domain": ["All", "low", "high"], "range": [-13, 13], "padding": 0}},
               "y": {"field": "lo", "type": "quantitative", "scale": {"domain": [0, 90], "nice": false}, "axis": {"values": [0, 15, 30, 45, 60, 75, 90]}, "title": null},
               "y2": {"field": "hi"},
               "color": {"field": "series", "type": "nominal", "scale": {"domain": ["All", "low", "high"], "range": ["#222222", "#ff7f0e", "#11692b"]}, "legend": null}}},
            {"data": {"name": "pts"}, "transform": [{"filter": "datum.panel === 'fa3'"}], "mark": {"type": "tick", "orient": "horizontal", "size": 8, "thickness": 1.5, "clip": true},
             "encoding": {
               "x": {"field": "morph", "type": "nominal", "scale": {"type": "point", "domain": ["E", "S0", "S(B)a-d", "Irr"], "padding": 0.444}, "title": null},
               "xOffset": {"field": "series", "type": "nominal", "scale": {"type": "point", "domain": ["All", "low", "high"], "range": [-13, 13], "padding": 0}},
               "y": {"field": "lo", "type": "quantitative", "scale": {"domain": [0, 90], "nice": false}, "axis": {"values": [0, 15, 30, 45, 60, 75, 90]}, "title": null},
               "color": {"field": "series", "type": "nominal", "scale": {"domain": ["All", "low", "high"], "range": ["#222222", "#ff7f0e", "#11692b"]}, "legend": null}}},
            {"data": {"name": "pts"}, "transform": [{"filter": "datum.panel === 'fa3'"}], "mark": {"type": "tick", "orient": "horizontal", "size": 8, "thickness": 1.5, "clip": true},
             "encoding": {
               "x": {"field": "morph", "type": "nominal", "scale": {"type": "point", "domain": ["E", "S0", "S(B)a-d", "Irr"], "padding": 0.444}, "title": null},
               "xOffset": {"field": "series", "type": "nominal", "scale": {"type": "point", "domain": ["All", "low", "high"], "range": [-13, 13], "padding": 0}},
               "y": {"field": "hi", "type": "quantitative", "scale": {"domain": [0, 90], "nice": false}, "axis": {"values": [0, 15, 30, 45, 60, 75, 90]}, "title": null},
               "color": {"field": "series", "type": "nominal", "scale": {"domain": ["All", "low", "high"], "range": ["#222222", "#ff7f0e", "#11692b"]}, "legend": null}}},
            {"data": {"name": "pts"}, "transform": [{"filter": "datum.panel === 'fa3'"}], "mark": {"type": "point", "filled": true, "size": 60, "opacity": 1},
             "encoding": {
               "x": {"field": "morph", "type": "nominal", "scale": {"type": "point", "domain": ["E", "S0", "S(B)a-d", "Irr"], "padding": 0.444}, "title": null},
               "xOffset": {"field": "series", "type": "nominal", "scale": {"type": "point", "domain": ["All", "low", "high"], "range": [-13, 13], "padding": 0}},
               "y": {"field": "val", "type": "quantitative", "scale": {"domain": [0, 90], "nice": false}, "axis": {"values": [0, 15, 30, 45, 60, 75, 90]}, "title": null},
               "color": {"field": "series", "type": "nominal", "scale": {"domain": ["All", "low", "high"], "range": ["#222222", "#ff7f0e", "#11692b"]}, "legend": null}}}
          ]
        },
        {
          "title": "FilamentsB", "width": 280, "height": 196,
          "layer": [
            {"data": {"name": "iso"}, "mark": {"type": "rule", "color": "#d62728", "strokeDash": [5, 3], "strokeWidth": 1.5, "opacity": 0.85},
             "encoding": {"y": {"field": "ang", "type": "quantitative", "scale": {"domain": [0, 90], "nice": false}, "axis": {"values": [0, 15, 30, 45, 60, 75, 90]}, "title": null}}},
            {"data": {"name": "pts"}, "transform": [{"filter": "datum.panel === 'fb3'"}], "mark": {"type": "rule", "strokeWidth": 1.8, "clip": true},
             "encoding": {
               "x": {"field": "morph", "type": "nominal", "scale": {"type": "point", "domain": ["E", "S0", "S(B)a-d", "Irr"], "padding": 0.444}, "title": null},
               "xOffset": {"field": "series", "type": "nominal", "scale": {"type": "point", "domain": ["All", "low", "high"], "range": [-13, 13], "padding": 0}},
               "y": {"field": "lo", "type": "quantitative", "scale": {"domain": [0, 90], "nice": false}, "axis": {"values": [0, 15, 30, 45, 60, 75, 90]}, "title": null},
               "y2": {"field": "hi"},
               "color": {"field": "series", "type": "nominal", "scale": {"domain": ["All", "low", "high"], "range": ["#222222", "#ff7f0e", "#11692b"]}, "legend": null}}},
            {"data": {"name": "pts"}, "transform": [{"filter": "datum.panel === 'fb3'"}], "mark": {"type": "tick", "orient": "horizontal", "size": 8, "thickness": 1.5, "clip": true},
             "encoding": {
               "x": {"field": "morph", "type": "nominal", "scale": {"type": "point", "domain": ["E", "S0", "S(B)a-d", "Irr"], "padding": 0.444}, "title": null},
               "xOffset": {"field": "series", "type": "nominal", "scale": {"type": "point", "domain": ["All", "low", "high"], "range": [-13, 13], "padding": 0}},
               "y": {"field": "lo", "type": "quantitative", "scale": {"domain": [0, 90], "nice": false}, "axis": {"values": [0, 15, 30, 45, 60, 75, 90]}, "title": null},
               "color": {"field": "series", "type": "nominal", "scale": {"domain": ["All", "low", "high"], "range": ["#222222", "#ff7f0e", "#11692b"]}, "legend": null}}},
            {"data": {"name": "pts"}, "transform": [{"filter": "datum.panel === 'fb3'"}], "mark": {"type": "tick", "orient": "horizontal", "size": 8, "thickness": 1.5, "clip": true},
             "encoding": {
               "x": {"field": "morph", "type": "nominal", "scale": {"type": "point", "domain": ["E", "S0", "S(B)a-d", "Irr"], "padding": 0.444}, "title": null},
               "xOffset": {"field": "series", "type": "nominal", "scale": {"type": "point", "domain": ["All", "low", "high"], "range": [-13, 13], "padding": 0}},
               "y": {"field": "hi", "type": "quantitative", "scale": {"domain": [0, 90], "nice": false}, "axis": {"values": [0, 15, 30, 45, 60, 75, 90]}, "title": null},
               "color": {"field": "series", "type": "nominal", "scale": {"domain": ["All", "low", "high"], "range": ["#222222", "#ff7f0e", "#11692b"]}, "legend": null}}},
            {"data": {"name": "pts"}, "transform": [{"filter": "datum.panel === 'fb3'"}], "mark": {"type": "point", "filled": true, "size": 60, "opacity": 1},
             "encoding": {
               "x": {"field": "morph", "type": "nominal", "scale": {"type": "point", "domain": ["E", "S0", "S(B)a-d", "Irr"], "padding": 0.444}, "title": null},
               "xOffset": {"field": "series", "type": "nominal", "scale": {"type": "point", "domain": ["All", "low", "high"], "range": [-13, 13], "padding": 0}},
               "y": {"field": "val", "type": "quantitative", "scale": {"domain": [0, 90], "nice": false}, "axis": {"values": [0, 15, 30, 45, 60, 75, 90]}, "title": null},
               "color": {"field": "series", "type": "nominal", "scale": {"domain": ["All", "low", "high"], "range": ["#222222", "#ff7f0e", "#11692b"]}, "legend": null}}}
          ]
        }
      ],
      "spacing": 15
    }
  ],
  "spacing": 11,
  "resolve": {"scale": {"x": "independent", "y": "independent"}},
  "config": {
    "font": "DejaVu Serif",
    "view": {"stroke": "#333333", "strokeWidth": 1.2},
    "axis": {
      "domain": false, "grid": true, "gridColor": "#ececec", "gridWidth": 0.8,
      "tickColor": "#333333", "tickSize": 4, "tickWidth": 1,
      "labelFont": "DejaVu Serif", "labelFontSize": 14, "labelColor": "#1a1a1a", "labelPadding": 3,
      "titleFont": "DejaVu Serif", "titleFontSize": 15, "titleFontWeight": "normal", "titleColor": "#1a1a1a", "titlePadding": 8
    },
    "axisX": {"labelAngle": 0},
    "title": {"font": "DejaVu Serif", "fontSize": 19, "fontWeight": "normal", "color": "#1a1a1a", "offset": -6}
  }
}
